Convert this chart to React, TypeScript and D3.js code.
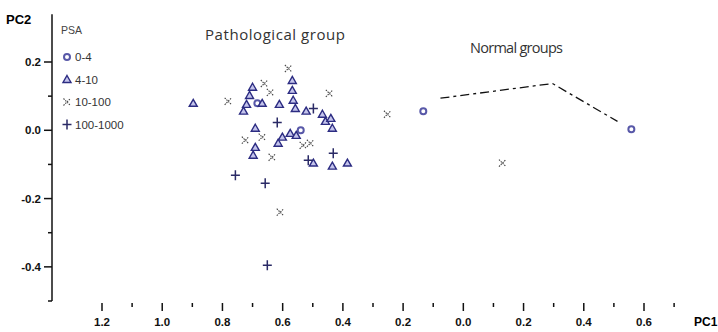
import React, { useEffect, useRef } from "react";
import * as d3 from "d3";

// PSA groups (PC1, PC2)
const psaGroups = ["0-4", "4-10", "10-100", "100-1000"];

const psa0to4 = [
  [-0.133, 0.056], [0.558, 0.003], [-0.684, 0.079], [-0.54, 0.0],
];

const psa4to10 = [
  [-0.897, 0.079], [-0.70, 0.126], [-0.71, 0.102], [-0.72, 0.076], [-0.73, 0.056],
  [-0.668, 0.079], [-0.611, 0.076], [-0.568, 0.146], [-0.568, 0.117], [-0.565, 0.088],
  [-0.558, 0.064], [-0.522, 0.056], [-0.468, 0.047], [-0.458, 0.026], [-0.435, 0.006],
  [-0.691, 0.006], [-0.691, -0.05], [-0.698, -0.073], [-0.601, -0.02], [-0.575, -0.009],
  [-0.555, -0.015], [-0.615, -0.038], [-0.498, -0.096], [-0.435, -0.105], [-0.385, -0.096],
  [-0.44, 0.035],
];

const psa10to100 = [
  [-0.781, 0.085], [-0.581, 0.181], [-0.661, 0.137], [-0.641, 0.111], [-0.445, 0.108],
  [-0.252, 0.047], [0.13, -0.096], [-0.724, -0.029], [-0.668, -0.02], [-0.635, -0.079],
  [-0.532, -0.044], [-0.508, -0.038], [-0.608, -0.24],
];

const psa100to1000 = [
  [-0.618, 0.023], [-0.498, 0.064], [-0.515, -0.088], [-0.432, -0.067],
  [-0.651, -0.395], [-0.757, -0.132], [-0.658, -0.155],
];

// hand drawn boundary around the normal groups
const normalLine = [[-0.076, 0.094], [0.296, 0.137], [0.512, 0.026]];

const xTicks = [-1.2, -1.0, -0.8, -0.6, -0.4, -0.2, 0.0, 0.2, 0.4, 0.6];
const yTicks = [0.2, 0.0, -0.2, -0.4];

export default function App() {
  const ref = useRef<SVGSVGElement>(null);

  useEffect(() => {
    const svg = d3.select(ref.current);
    svg.selectAll("*").remove();

    const x = d3.scaleLinear().domain([-1.2, 0.6]).range([102, 644]);
    const y = d3.scaleLinear().domain([-0.5, 0.2]).range([301, 62]);
    const axisFont = "'Liberation Sans', Arial, sans-serif";

    // y axis
    svg.append("line")
      .attr("x1", 52).attr("x2", 52)
      .attr("y1", y(0.34)).attr("y2", y(-0.5))
      .attr("stroke", "#111").attr("stroke-width", 1.5);

    d3.range(-5, 3).forEach(i => {
      const v = i / 10;
      const major = i % 2 === 0;
      svg.append("line")
        .attr("x1", major ? 44 : 48).attr("x2", 52)
        .attr("y1", y(v)).attr("y2", y(v))
        .attr("stroke", "#111").attr("stroke-width", 1.5);
    });

    svg.selectAll(".ylab")
      .data(yTicks)
      .enter()
      .append("text")
      .attr("x", 41)
      .attr("y", d => y(d) + 4)
      .attr("text-anchor", "end")
      .style("font", `bold 11.5px ${axisFont}`)
      .attr("fill", "#111")
      .text(d => d.toFixed(1));

    svg.append("text")
      .attr("x", 6).attr("y", 24)
      .style("font", `bold 13px ${axisFont}`)
      .text("PC2");

    // x axis: ticks only, labels printed without sign
    d3.range(-12, 8).forEach(i => {
      const v = i / 10;
      const major = i % 2 === 0 && i <= 6;
      svg.append("line")
        .attr("x1", x(v)).attr("x2", x(v))
        .attr("y1", 303).attr("y2", major ? 311 : 307)
        .attr("stroke", "#111").attr("stroke-width", 1.5);
    });

    svg.selectAll(".xlab")
      .data(xTicks)
      .enter()
      .append("text")
      .attr("x", d => x(d))
      .attr("y", 326)
      .attr("text-anchor", "middle")
      .style("font", `bold 11.5px ${axisFont}`)
      .attr("fill", "#111")
      .text(d => Math.abs(d).toFixed(1));

    svg.append("text")
      .attr("x", 694).attr("y", 326)
      .style("font", `bold 12px ${axisFont}`)
      .text("PC1");

    // group titles
    svg.append("text")
      .attr("x", 205).attr("y", 40)
      .attr("textLength", 140)
      .style("font", "15px 'Open Sans', sans-serif")
      .attr("fill", "#333")
      .text("Pathological group");

    svg.append("text")
      .attr("x", 470).attr("y", 53)
      .attr("textLength", 93)
      .style("font", "14.5px 'Open Sans', sans-serif")
      .attr("fill", "#333")
      .text("Normal groups");

    // normal groups outline
    svg.append("path")
      .attr("d", d3.line()(normalLine.map(d => [x(d[0]), y(d[1])]) as [number, number][]))
      .attr("fill", "none")
      .attr("stroke", "#111")
      .attr("stroke-width", 1.3)
      .attr("stroke-dasharray", "9,4,3,4");

    // marker drawers
    const drawCircle = (g, px, py) => {
      g.append("circle").attr("cx", px).attr("cy", py).attr("r", 3)
        .attr("fill", "none").attr("stroke", "#5858a8").attr("stroke-width", 2);
    };
    const drawTriangle = (g, px, py) => {
      g.append("path")
        .attr("d", `M${px},${py - 4}L${px + 4},${py + 3}L${px - 4},${py + 3}Z`)
        .attr("fill", "#c4c4ec").attr("stroke", "#2c2c82").attr("stroke-width", 1.4);
    };
    const drawCross = (g, px, py) => {
      g.append("path")
        .attr("d", `M${px - 3.5},${py - 3.5}L${px + 3.5},${py + 3.5}M${px - 3.5},${py + 3.5}L${px + 3.5},${py - 3.5}`)
        .attr("stroke", "#444").attr("stroke-width", 1.1).attr("stroke-dasharray", "1.5,1");
    };
    const drawPlus = (g, px, py) => {
      g.append("path")
        .attr("d", `M${px - 4.5},${py}L${px + 4.5},${py}M${px},${py - 5}L${px},${py + 5}`)
        .attr("stroke", "#2a2a66").attr("stroke-width", 1.5);
    };

    const series = [
      { data: psa0to4, draw: drawCircle },
      { data: psa4to10, draw: drawTriangle },
      { data: psa10to100, draw: drawCross },
      { data: psa100to1000, draw: drawPlus },
    ];

    const pts = svg.append("g");
    series.forEach(s => {
      s.data.forEach(d => s.draw(pts, x(d[0]), y(d[1])));
    });

    // legend
    const legend = svg.append("g");
    legend.append("text")
      .attr("x", 61).attr("y", 34)
      .style("font", "10.5px 'Liberation Sans', Arial, sans-serif")
      .attr("fill", "#444")
      .text("PSA");

    psaGroups.forEach((name, i) => {
      const ly = 57 + i * 22.5;
      series[i].draw(legend, 67, ly);
      legend.append("text")
        .attr("x", 75).attr("y", ly + 4)
        .style("font", "11.5px 'Liberation Sans', Arial, sans-serif")
        .attr("fill", "#333")
        .text(name);
    });
  }, []);

  return (
    <svg
      ref={ref}
      width={718}
      height={332}
      style={{ position: "absolute", left: 0, top: 0, background: "#fff" }}
    />
  );
}
